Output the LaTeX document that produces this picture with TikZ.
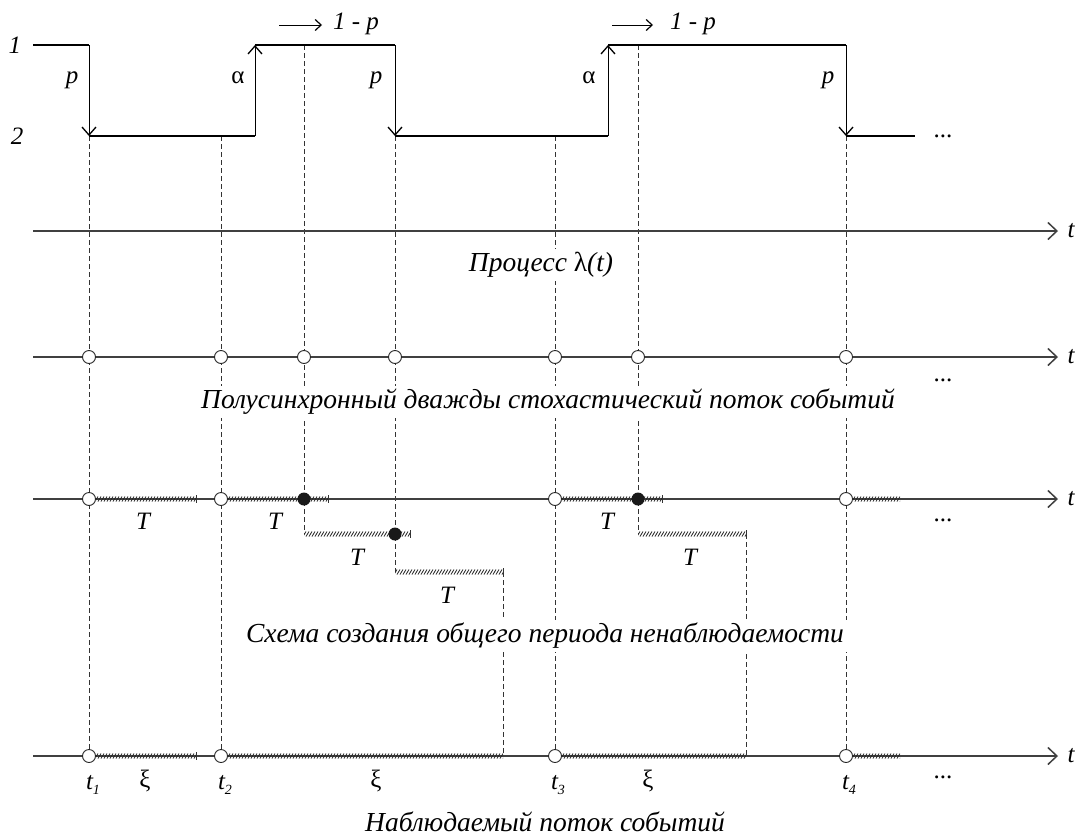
\documentclass[tikz,border=0pt]{standalone}
\usepackage{fontspec}
\setmainfont{Liberation Serif}
\usetikzlibrary{arrows.meta}
\newcommand\hatchseg[3]{%
  \begin{scope}
    \clip (#1,#3-4) rectangle (#2,#3+4);
    \pgfmathtruncatemacro\hn{(#2-#1)/3+1}
    \foreach \k in {0,...,\hn}{\draw[hatchln] ({#1+3*\k-1},{#3+2.5}) -- ({#1+3*\k+2},{#3-2.5});}
  \end{scope}}
\newcommand\segtick[2]{\draw[tickln] (#1,#2-4) -- (#1,#2+4);}
\newcommand\tsub[1]{\textit{t}\raisebox{-0.45ex}{\fontsize{14}{14}\selectfont\itshape #1}}
\begin{document}
\begin{tikzpicture}[x=1pt,y=-1pt,
  level/.style={line width=2pt},
  jump/.style={line width=1pt,-{Straight Barb[length=8pt,width=14pt,line width=1.3pt]}},
  small arrow/.style={line width=1pt,-{Straight Barb[length=6pt,width=11pt,line width=1.2pt]}},
  axis/.style={line width=1.3pt,draw=black!75,-{Straight Barb[length=9pt,width=17pt,line width=1.5pt]}},
  guide/.style={dash pattern=on 5pt off 3pt,line width=0.9pt,draw=black!80},
  hatchln/.style={line width=0.8pt,draw=black!85},
  tickln/.style={line width=0.9pt,draw=black!80},
  ev/.style={circle,draw=black!85,fill=white,minimum size=13pt,inner sep=0pt,line width=0.9pt},
  evf/.style={circle,fill=black!90,minimum size=13pt,inner sep=0pt},
  lab/.style={font=\fontsize{25}{29}\selectfont\itshape,inner sep=1pt},
  labu/.style={font=\fontsize{25}{29}\selectfont,inner sep=1pt},
  title/.style={font=\fontsize{27.5}{32}\selectfont\itshape,fill=white,inner sep=3pt},
]
\useasboundingbox (0,0) rectangle (1081,838);

% ---------- coordinates of the process lambda(t)
\coordinate (s0) at (33,45);
\coordinate (a1) at (89,45);   \coordinate (a2) at (89,136);
\coordinate (b2) at (255,136); \coordinate (b1) at (255,45);
\coordinate (c1) at (395,45);  \coordinate (c2) at (395,136);
\coordinate (d2) at (608,136); \coordinate (d1) at (608,45);
\coordinate (e1) at (846,45);  \coordinate (e2) at (846,136);
\coordinate (f2) at (915,136);
\coordinate (g2) at (221,136); \coordinate (g3) at (304,45);
\coordinate (g5) at (555,136); \coordinate (g6) at (638,45);

% axis ends
\foreach \n/\y in {A/231,B/357,C/499,D/756}{
  \coordinate (\n s) at (33,\y); \coordinate (\n e) at (1058,\y);}

% corner coordinates of the non-observability scheme
\coordinate (k1) at (304,534); \coordinate (k2) at (395,572);
\coordinate (k3) at (503,572); \coordinate (k4) at (638,534);
\coordinate (k5) at (746,534);
\coordinate (m3) at (503,756); \coordinate (m5) at (746,756);

% ---------- guides (dashed)
\draw[guide] (a2) -- (89,756);
\draw[guide] (g2) -- (221,756);
\draw[guide] (g3) -- (k1);
\draw[guide] (c2) -- (k2);
\draw[guide] (k3) -- (m3);
\draw[guide] (g5) -- (555,756);
\draw[guide] (g6) -- (k4);
\draw[guide] (k5) -- (m5);
\draw[guide] (e2) -- (846,756);

% ---------- process lambda(t)
\draw[level] (s0) -- (a1);
\draw[jump] (a1) -- (a2);
\draw[level] (a2) -- (b2);
\draw[jump] (b2) -- (b1);
\draw[level] (b1) -- (c1);
\draw[jump] (c1) -- (c2);
\draw[level] (c2) -- (d2);
\draw[jump] (d2) -- (d1);
\draw[level] (d1) -- (e1);
\draw[jump] (e1) -- (e2);
\draw[level] (e2) -- (f2);

\node[lab] (l1) at (15,45) {1};
\node[lab] (l2) at (17,136) {2};
\node[lab] (p1) at (72,80) {p};
\node[labu] (al1) at (238,78) {α};
\node[lab] (p2) at (376,80) {p};
\node[labu] (al2) at (589,78) {α};
\node[lab] (p3) at (828,80) {p};
\node[labu] (dt0) at (943,136) {...};

\coordinate (r1s) at (279,25); \coordinate (r1e) at (322,25);
\draw[small arrow] (r1s) -- (r1e);
\node[lab] (q1) at (356,24) {1 - p};
\coordinate (r2s) at (612,25); \coordinate (r2e) at (653,25);
\draw[small arrow] (r2s) -- (r2e);
\node[lab] (q2) at (693,24) {1 - p};

% ---------- axes
\foreach \n in {A,B,C,D}{\draw[axis] (\n s) -- (\n e);}
\node[lab] (tA) at (1071,231) {t};
\node[lab] (tB) at (1071,357) {t};
\node[lab] (tC) at (1071,499) {t};
\node[lab] (tD) at (1071,756) {t};

% ---------- hatched segments
\hatchseg{96}{196}{499}\segtick{196}{499}
\hatchseg{228}{328}{499}\segtick{328}{499}
\hatchseg{562}{662}{499}\segtick{662}{499}
\hatchseg{853}{900}{499}
\hatchseg{304}{410}{534}\segtick{410}{534}
\hatchseg{638}{746}{534}\segtick{746}{534}
\hatchseg{395}{503}{572}\segtick{503}{572}
\hatchseg{96}{196}{756}\segtick{196}{756}
\hatchseg{228}{503}{756}
\hatchseg{562}{746}{756}
\hatchseg{853}{900}{756}

% ---------- events
\foreach \x [count=\i] in {89,221,304,395,555,638,846}{
  \node[ev] (ev\i) at (\x,357) {};}
\foreach \x/\nm in {89/c1e,221/c2e,555/c5e,846/c7e}{
  \node[ev] (\nm) at (\x,499) {};}
\node[evf] (c3e) at (304,499) {};
\node[evf] (c6e) at (638,499) {};
\node[evf] (c4e) at (395,534) {};
\foreach \x/\nm in {89/d1e,221/d2e,555/d3e,846/d4e}{
  \node[ev] (\nm) at (\x,756) {};}

% ---------- T labels
\node[lab] (T1) at (143,521) {T};
\node[lab] (T2) at (275,521) {T};
\node[lab] (T3) at (357,557) {T};
\node[lab] (T4) at (447,595) {T};
\node[lab] (T5) at (607,521) {T};
\node[lab] (T6) at (690,557) {T};
\node[labu] (dt2) at (943,380) {...};
\node[labu] (dt3) at (943,520) {...};
\node[labu] (dt4) at (943,777) {...};

% ---------- bottom labels
\node[lab] (t1) at (93,785) {\tsub{1}};
\node[lab] (t2) at (225,785) {\tsub{2}};
\node[lab] (t3) at (558,785) {\tsub{3}};
\node[lab] (t4) at (849,785) {\tsub{4}};
\node[labu] (x1) at (145,781) {ξ};
\node[labu] (x2) at (376,781) {ξ};
\node[labu] (x3) at (648,781) {ξ};

% ---------- row titles
\node[title] (n1) at (541,265) {Процесс {\upshape λ}(t)};
\node[title] (n2) at (548,402) {Полусинхронный дважды стохастический поток событий};
\node[title] (n3) at (545,636) {Схема создания общего периода ненаблюдаемости};
\node[title,anchor=base] (n4) at (545,831) {Наблюдаемый поток событий};
\end{tikzpicture}
\end{document}
